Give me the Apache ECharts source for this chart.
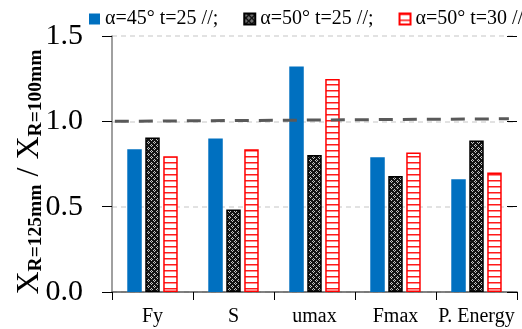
<!DOCTYPE html>
<html>
<head>
<meta charset="utf-8">
<script src="https://cdn.jsdelivr.net/npm/echarts@6/dist/echarts.min.js"></script>
<style>
  html, body { margin: 0; padding: 0; background: #fff; }
  #chart { width: 522px; height: 329px; }
</style>
</head>
<body>
<div id="chart"></div>
<script>
// Ratio of response quantities, R = 125 mm over R = 100 mm
const categories = ['Fy', 'S', 'umax', 'Fmax', 'P. Energy'];
const seriesNames = ['α=45° t=25 //;', 'α=50° t=25 //;', 'α=50° t=30 //;'];
const a45t25 = [0.836, 0.899, 1.322, 0.789, 0.660];
const a50t25 = [0.905, 0.483, 0.803, 0.680, 0.887];
const a50t30 = [0.795, 0.836, 1.248, 0.817, 0.700];
const yTicks = [0, 0.5, 1.0, 1.5];
// reference trend line: fraction of plot width and ratio value
const refLineX = [0.007, 0.980];
const refLineY = [1.0, 1.015];

const SERIF = '"Liberation Serif", "Times New Roman", serif';

function crossHatch() {
  const c = document.createElement('canvas');
  c.width = 6; c.height = 6;
  const g = c.getContext('2d');
  g.fillStyle = '#141414';
  g.fillRect(0, 0, 6, 6);
  g.fillStyle = '#c8c8c8';
  [[1,0],[0,1],[2,1],[1,2],[4,3],[3,4],[5,4],[4,5]].forEach(function (p) {
    g.fillRect(p[0], p[1], 1, 1);
  });
  return c;
}
function hStripes() {
  const c = document.createElement('canvas');
  c.width = 4; c.height = 6;
  const g = c.getContext('2d');
  g.fillStyle = '#ffffff';
  g.fillRect(0, 0, 4, 6);
  g.fillStyle = '#ff1a1a';
  g.fillRect(0, 0, 4, 1.5);
  return c;
}

const chart = echarts.init(document.getElementById('chart'), null, { renderer: 'canvas' });

const grid = { left: 112, right: 5, top: 36, bottom: 37 };

const barCommon = {
  type: 'bar',
  xAxisIndex: 0,
  yAxisIndex: 0,
  barWidth: 14.5,
  barGap: '24%'
};

chart.setOption({
  animation: false,
  textStyle: { fontFamily: SERIF },
  grid: grid,
  legend: {
    data: seriesNames,
    left: 84,
    top: 4,
    width: 600,
    itemWidth: 11,
    itemHeight: 11,
    itemGap: 25,
    icon: 'rect',
    textStyle: { fontFamily: SERIF, fontSize: 20, color: '#000' }
  },
  xAxis: [
    {
      type: 'category',
      data: categories,
      axisLine: { lineStyle: { color: '#595959', width: 1.5 } },
      axisTick: { show: true, length: 5, lineStyle: { color: '#000' } },
      axisLabel: { fontFamily: SERIF, fontSize: 20, color: '#000', margin: 15, interval: 0 },
      splitLine: { show: false }
    },
    {
      type: 'category',
      data: categories,
      axisLine: { show: false },
      axisTick: { show: true, inside: true, length: 8, lineStyle: { color: '#000' } },
      axisLabel: { show: false },
      splitLine: { show: false }
    },
    { type: 'value', min: 0, max: 1, show: false }
  ],
  yAxis: [
    {
      type: 'value',
      min: 0,
      max: 1.5,
      interval: 0.5,
      axisLine: { show: true, lineStyle: { color: '#808080', width: 1.5 } },
      axisTick: { show: true, length: 10, lineStyle: { color: '#000' } },
      axisLabel: {
        fontFamily: SERIF, fontSize: 30, color: '#000', margin: 29,
        formatter: function (v) { return v.toFixed(1); }
      },
      splitLine: { show: true, lineStyle: { color: '#d9d9d9', type: [5, 4], width: 1.5 } }
    },
    {
      type: 'value',
      min: 0,
      max: 1.5,
      interval: 0.5,
      axisLine: { show: false },
      axisTick: { show: true, inside: true, length: 10, lineStyle: { color: '#000' } },
      axisLabel: { show: false },
      splitLine: { show: false }
    }
  ],
  graphic: [
    {
      type: 'text',
      x: 30,
      y: 172,
      rotation: Math.PI / 2,
      style: {
        text: '{x|X}{s|R=125mm}{x| / X}{s|R=100mm}',
        align: 'center',
        verticalAlign: 'middle',
        fill: '#000',
        rich: {
          x: { fontFamily: SERIF, fontSize: 32, lineHeight: 32, verticalAlign: 'bottom', fill: '#000' },
          s: { fontFamily: SERIF, fontSize: 19.5, fontWeight: 'bold', lineHeight: 6, verticalAlign: 'bottom', fill: '#000' }
        }
      }
    }
  ],
  series: [
    Object.assign({}, barCommon, {
      name: seriesNames[0],
      data: a45t25,
      itemStyle: { color: '#0070c0' }
    }),
    Object.assign({}, barCommon, {
      name: seriesNames[1],
      data: a50t25,
      itemStyle: { color: { image: crossHatch(), repeat: 'repeat' }, borderColor: '#000', borderWidth: 1.5 }
    }),
    Object.assign({}, barCommon, {
      name: seriesNames[2],
      data: a50t30,
      itemStyle: { color: { image: hStripes(), repeat: 'repeat' }, borderColor: '#ff0000', borderWidth: 1.5 }
    }),
    {
      type: 'line',
      name: 'ref',
      xAxisIndex: 2,
      yAxisIndex: 0,
      data: refLineX.map(function (x, i) { return [x, refLineY[i]]; }),
      symbol: 'none',
      silent: true,
      z: 5,
      lineStyle: { color: '#595959', width: 3, type: [14, 10], cap: 'butt' }
    }
  ]
});
</script>
</body>
</html>
